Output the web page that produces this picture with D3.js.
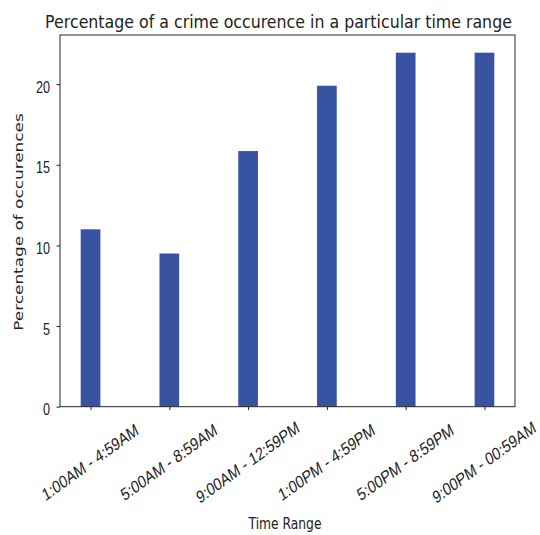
<!DOCTYPE html>
<html><head><meta charset="utf-8">
<script src="https://cdn.jsdelivr.net/npm/d3@7"></script>
<style>body{margin:0;background:#fff} svg{display:block}</style>
</head><body>
<script>
const categories = ["1:00AM - 4:59AM","5:00AM - 8:59AM","9:00AM - 12:59PM","1:00PM - 4:59PM","5:00PM - 8:59PM","9:00PM - 00:59AM"];
const percentages = [11.0, 9.5, 15.85, 19.9, 21.95, 21.95];
const yTicks = [0, 5, 10, 15, 20];
const title = "Percentage of a crime occurence in a particular time range";
const xLabel = "Time Range";
const yLabel = "Percentage of occurences";

const W = 540, H = 535;
const m = {left: 60, right: 515, top: 35, bottom: 406.7};
const font = "'DejaVu Sans', sans-serif";
const ink = "#222";

const svg = d3.select("body").append("svg").attr("width", W).attr("height", H)
  .style("font-family", font);

const n = categories.length;
const barW = 0.25;
const span = (n - 1) + barW;
const x = d3.scaleLinear()
  .domain([-barW / 2 - 0.05 * span, (n - 1) + barW / 2 + 0.05 * span])
  .range([m.left, m.right]);
const y = d3.scaleLinear()
  .domain([0, d3.max(percentages) * 1.05])
  .range([m.bottom, m.top]);

// bars
svg.append("g").selectAll("rect").data(percentages).join("rect")
  .attr("x", (d, i) => x(i - barW / 2))
  .attr("width", (d, i) => x(i + barW / 2) - x(i - barW / 2))
  .attr("y", d => y(d))
  .attr("height", d => y(0) - y(d))
  .attr("fill", "#3953a3");

// frame
svg.append("rect")
  .attr("x", m.left).attr("y", m.top)
  .attr("width", m.right - m.left).attr("height", m.bottom - m.top)
  .attr("fill", "none").attr("stroke", "#262626").attr("stroke-width", 1);

// y axis
const gy = svg.append("g").attr("transform", `translate(${m.left},0)`)
  .call(d3.axisLeft(y).tickValues(yTicks).tickSize(3.5).tickFormat(d3.format("d")));
gy.select(".domain").remove();
gy.selectAll(".tick line").attr("stroke", "#262626");
gy.selectAll(".tick text")
  .attr("x", 0).attr("y", 0).attr("dy", "0.36em")
  .attr("transform", `translate(-10,2.5) scale(1,1.25)`)
  .attr("text-anchor", "end")
  .attr("fill", ink)
  .style("font-size", "12.6px");

// x axis
const gx = svg.append("g").attr("transform", `translate(0,${m.bottom})`)
  .call(d3.axisBottom(x).tickValues(d3.range(n)).tickSize(3.5).tickFormat(i => categories[i]));
gx.select(".domain").remove();
gx.selectAll(".tick line").attr("stroke", "#262626");
gx.selectAll(".tick text")
  .attr("x", 0).attr("y", 0).attr("dy", "0.36em")
  .attr("transform", `translate(-1,${462 - m.bottom}) scale(1,1.25) rotate(-30)`)
  .attr("text-anchor", "middle")
  .attr("fill", ink)
  .style("font-size", "14px");

// x label
svg.append("text")
  .attr("transform", `translate(285,529) scale(1,1.27)`)
  .attr("text-anchor", "middle")
  .attr("fill", ink)
  .style("font-size", "12.3px")
  .text(xLabel);

// y label
svg.append("text")
  .attr("transform", `translate(22.5,222) rotate(-90) scale(1.36,1)`)
  .attr("text-anchor", "middle")
  .attr("fill", ink)
  .style("font-size", "12.4px")
  .text(yLabel);

// title
svg.append("text")
  .attr("transform", `translate(278.5,27.7) scale(1,1.16)`)
  .attr("text-anchor", "middle")
  .attr("fill", ink)
  .style("font-size", "15.8px")
  .text(title);
</script>
</body></html>
